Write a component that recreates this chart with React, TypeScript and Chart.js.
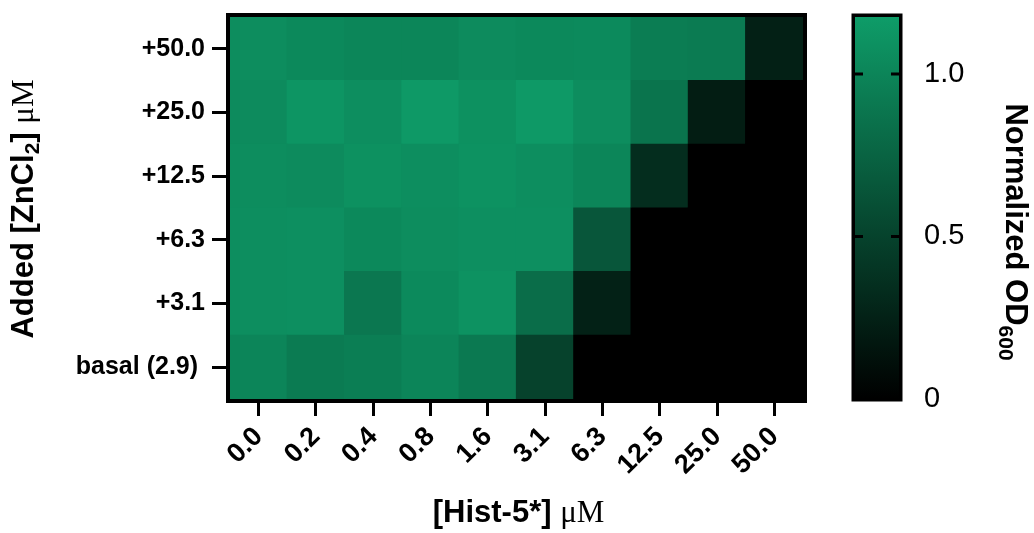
import React, { useEffect, useRef } from "react";
import { Chart, registerables } from "chart.js";

Chart.register(...registerables);

// ---- data ----
const histLabels = ["0.0", "0.2", "0.4", "0.8", "1.6", "3.1", "6.3", "12.5", "25.0", "50.0"];
const zincLabels = ["basal (2.9)", "+3.1", "+6.3", "+12.5", "+25.0", "+50.0"];

const rowBasal = [1.0, 0.93, 0.95, 1.0, 0.91, 0.5, 0, 0, 0, 0];
const rowZn3_1 = [1.07, 1.08, 0.9, 1.04, 1.1, 0.82, 0.25, 0, 0, 0];
const rowZn6_3 = [1.07, 1.08, 1.03, 1.06, 1.08, 1.08, 0.65, 0, 0, 0];
const rowZn12_5 = [1.06, 1.05, 1.09, 1.07, 1.1, 1.07, 1.01, 0.34, 0, 0];
const rowZn25 = [1.05, 1.12, 1.07, 1.15, 1.09, 1.15, 1.06, 0.87, 0.22, 0];
const rowZn50 = [1.06, 1.03, 1.01, 1.01, 1.05, 1.03, 1.04, 0.94, 0.93, 0.24];

const rows = [rowBasal, rowZn3_1, rowZn6_3, rowZn12_5, rowZn25, rowZn50];

const colorbarTicks = [0, 0.5, 1.0];
const colorMin = 0;
const colorMax = 1.175;
const topColor = [14, 156, 104];

function colorFor(v: number): string {
  let t = (v - colorMin) / (colorMax - colorMin);
  t = Math.max(0, Math.min(1, t));
  return `rgb(${Math.round(topColor[0] * t)},${Math.round(topColor[1] * t)},${Math.round(topColor[2] * t)})`;
}

const SANS = "'Liberation Sans', Arial, sans-serif";
const SERIF = "'Liberation Serif', 'Times New Roman', serif";

type Seg = { t: string; f: string; dy?: number };

function drawSegs(ctx: CanvasRenderingContext2D, segs: Seg[]) {
  let total = 0;
  for (const s of segs) {
    ctx.font = s.f;
    total += ctx.measureText(s.t).width;
  }
  let x = -total / 2;
  ctx.textAlign = "left";
  ctx.textBaseline = "alphabetic";
  ctx.fillStyle = "#000";
  for (const s of segs) {
    ctx.font = s.f;
    ctx.fillText(s.t, x, s.dy || 0);
    x += ctx.measureText(s.t).width;
  }
}

function zeroPad(s: any) {
  s.paddingTop = 0;
  s.paddingBottom = 0;
  s.paddingLeft = 0;
  s.paddingRight = 0;
}

const decorPlugin = {
  id: "decor",
  afterDraw(chart: any) {
    const ctx: CanvasRenderingContext2D = chart.ctx;
    const a = chart.chartArea;
    const y2 = chart.scales.y2;
    ctx.save();

    // heatmap frame
    ctx.strokeStyle = "#000";
    ctx.lineWidth = 4;
    ctx.strokeRect(a.left - 2, a.top - 2, a.right - a.left + 4, a.bottom - a.top + 4);

    // colour bar
    const cbL = 855;
    const cbR = 899;
    const yTop = y2.getPixelForValue(colorMax);
    const yBot = y2.getPixelForValue(colorMin);
    const g = ctx.createLinearGradient(0, yBot, 0, yTop);
    g.addColorStop(0, colorFor(colorMin));
    g.addColorStop(1, colorFor(colorMax));
    ctx.fillStyle = g;
    ctx.fillRect(cbL, yTop, cbR - cbL, yBot - yTop);
    ctx.lineWidth = 3.5;
    ctx.strokeStyle = "#000";
    ctx.strokeRect(cbL - 1.75, yTop - 1.75, cbR - cbL + 3.5, yBot - yTop + 2.5);
    ctx.lineWidth = 3;
    for (const v of colorbarTicks) {
      if (v === colorMin) continue;
      const py = y2.getPixelForValue(v);
      ctx.beginPath();
      ctx.moveTo(cbL, py);
      ctx.lineTo(cbL + 8, py);
      ctx.moveTo(cbR, py);
      ctx.lineTo(cbR - 8, py);
      ctx.stroke();
    }

    // x title
    ctx.save();
    ctx.translate((a.left + a.right) / 2 + 2, 522);
    drawSegs(ctx, [
      { t: "[Hist-5*] ", f: `bold 31px ${SANS}` },
      { t: "\u03bcM", f: `31px ${SERIF}` },
    ]);
    ctx.restore();

    // y title
    ctx.save();
    ctx.translate(33, (a.top + a.bottom) / 2 + 1);
    ctx.rotate(-Math.PI / 2);
    drawSegs(ctx, [
      { t: "Added [ZnCl", f: `bold 31px ${SANS}` },
      { t: "2", f: `bold 21px ${SANS}`, dy: 6 },
      { t: "] ", f: `bold 31px ${SANS}` },
      { t: "\u03bcM", f: `31px ${SERIF}` },
    ]);
    ctx.restore();

    // colour bar title
    ctx.save();
    ctx.translate(1006, 232);
    ctx.rotate(Math.PI / 2);
    drawSegs(ctx, [
      { t: "Normalized OD", f: `bold 31px ${SANS}` },
      { t: "600", f: `bold 21px ${SANS}`, dy: 7 },
    ]);
    ctx.restore();

    ctx.restore();
  },
};

export default function App() {
  const ref = useRef<HTMLCanvasElement | null>(null);

  useEffect(() => {
    document.body.style.margin = "0";
    const canvas = ref.current;
    if (!canvas) return;

    const datasets = rows.map((vals, r) => ({
      label: zincLabels[r],
      data: vals.map(() => [r - 0.5, r + 0.5]),
      backgroundColor: vals.map(colorFor),
      borderWidth: 0,
      barPercentage: 1,
      categoryPercentage: 1,
      grouped: false,
      inflateAmount: 0.6,
      xAxisID: "x",
      yAxisID: "y",
    }));

    const chart = new Chart(canvas, {
      type: "bar",
      data: { labels: histLabels, datasets: datasets as any },
      plugins: [decorPlugin],
      options: {
        responsive: false,
        animation: false,
        layout: { padding: { top: 17, left: 0, right: 0, bottom: 0 } },
        plugins: {
          legend: { display: false },
          tooltip: { enabled: false },
          title: { display: false },
        },
        scales: {
          x: {
            type: "category",
            offset: true,
            grid: {
              offset: false,
              drawOnChartArea: false,
              drawTicks: true,
              tickLength: 17,
              tickWidth: 3,
              tickColor: "#000",
            },
            border: { display: false },
            ticks: {
              minRotation: 45,
              maxRotation: 45,
              autoSkip: false,
              padding: 5,
              color: "#000",
              font: { family: SANS, size: 27, weight: "bold" },
            },
            afterFit: (s: any) => {
              s.height = 134;
              zeroPad(s);
            },
          },
          y: {
            type: "linear",
            position: "left",
            min: -0.5,
            max: 5.5,
            grid: {
              drawOnChartArea: false,
              drawTicks: true,
              tickLength: 18,
              tickWidth: 3,
              tickColor: "#000",
            },
            border: { display: false },
            afterBuildTicks: (s: any) => {
              s.ticks = zincLabels.map((_, i) => ({ value: i }));
            },
            ticks: {
              autoSkip: false,
              padding: 7,
              color: "#000",
              font: { family: SANS, size: 25, weight: "bold" },
              callback: (v: any) => {
                const i = Math.round(Number(v));
                const lab = zincLabels[i] ?? "";
                return i === 0 ? lab + " " : lab;
              },
            },
            afterFit: (s: any) => {
              s.width = 230;
              zeroPad(s);
            },
          },
          y2: {
            type: "linear",
            position: "right",
            min: colorMin,
            max: colorMax,
            grid: { display: false, drawOnChartArea: false },
            border: { display: false },
            afterBuildTicks: (s: any) => {
              s.ticks = colorbarTicks.map((v) => ({ value: v }));
            },
            ticks: {
              autoSkip: false,
              padding: 113,
              color: "#000",
              font: { family: SANS, size: 29 },
              callback: (v: any) => (Number(v) === 0 ? "0" : Number(v).toFixed(1)),
            },
            afterFit: (s: any) => {
              s.width = 231;
              zeroPad(s);
            },
          },
        },
      } as any,
    });

    return () => chart.destroy();
  }, []);

  return (
    <div style={{ position: "relative", width: 1034, height: 533 }}>
      <canvas
        ref={ref}
        width={1034}
        height={533}
        style={{ display: "block", position: "absolute", left: 0, top: 0 }}
      />
    </div>
  );
}
